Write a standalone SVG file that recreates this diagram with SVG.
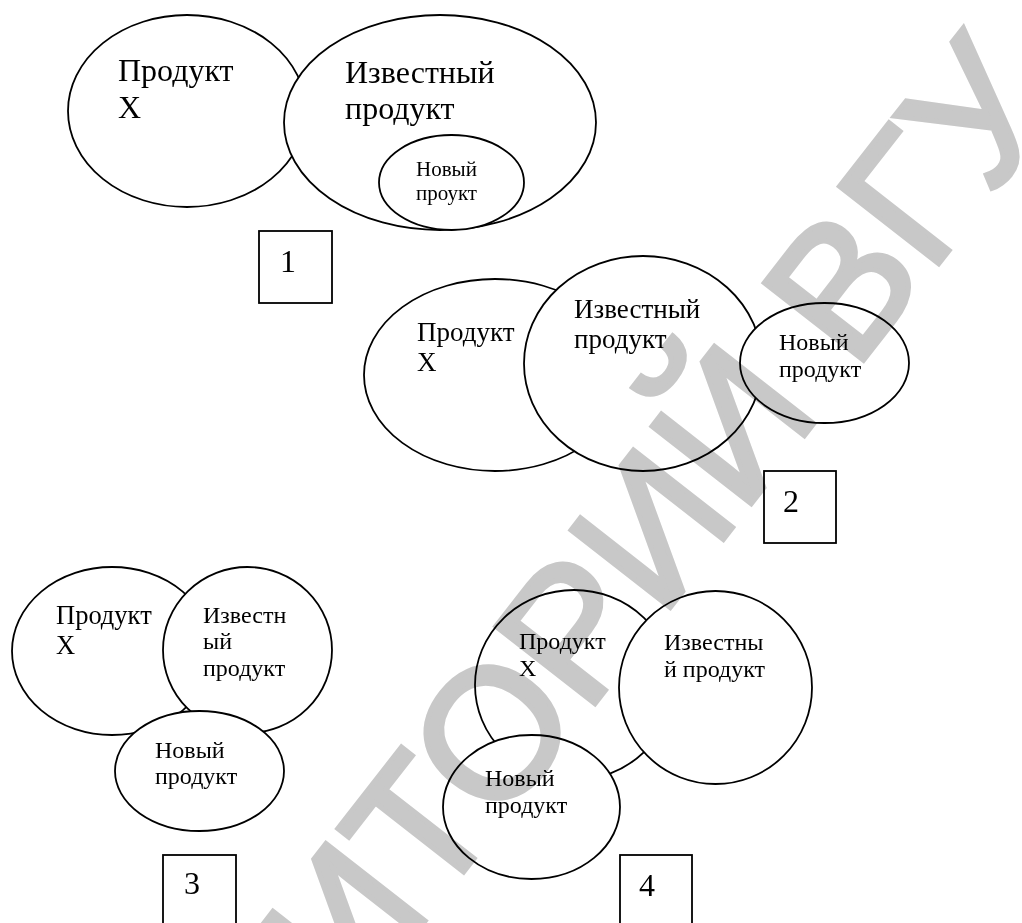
<svg xmlns="http://www.w3.org/2000/svg" width="1022" height="923" viewBox="0 0 1022 923">
<style>
.sh{fill:#fff;stroke:#000;stroke-width:1.8}
.bx{fill:none;stroke:#000;stroke-width:1.8}
.t{font-family:"Liberation Serif","Times New Roman",serif;fill:#000}
.wm{font-family:"Liberation Sans",Arial,sans-serif;fill:#c8c8c8;stroke:#c8c8c8;stroke-width:5;stroke-linejoin:miter;font-size:183px;mix-blend-mode:multiply}
</style>
<rect width="1022" height="923" fill="#fff"/>
<g id="connectors"></g>
<g id="diagram1">
  <g id="d1-x"><ellipse class="sh" cx="187" cy="111" rx="119" ry="96"/>
    <text class="t" font-size="32" x="118" y="81">Продукт</text><text class="t" font-size="32" x="118" y="118">X</text></g>
  <g id="d1-known"><ellipse class="sh" cx="440" cy="122.5" rx="156" ry="107.5"/>
    <text class="t" font-size="32" x="345" y="83">Известный</text><text class="t" font-size="32" x="345" y="119">продукт</text></g>
  <g id="d1-new"><ellipse class="sh" cx="451.5" cy="182.5" rx="72.5" ry="47.5"/>
    <text class="t" font-size="21" x="416" y="176">Новый</text><text class="t" font-size="21" x="416" y="200">проукт</text></g>
  <g id="d1-label"><rect class="bx" x="259" y="231" width="73" height="72"/><text class="t" font-size="32" x="280" y="272">1</text></g>
</g>
<g id="diagram2">
  <g id="d2-x"><ellipse class="sh" cx="495" cy="375" rx="131" ry="96"/>
    <text class="t" font-size="27" x="417" y="341">Продукт</text><text class="t" font-size="27" x="417" y="371">X</text></g>
  <g id="d2-known"><ellipse class="sh" cx="643" cy="363.5" rx="119" ry="107.5"/>
    <text class="t" font-size="27" x="574" y="318">Известный</text><text class="t" font-size="27" x="574" y="348">продукт</text></g>
  <g id="d2-new"><ellipse class="sh" cx="824.5" cy="363" rx="84.5" ry="60"/>
    <text class="t" font-size="24" x="779" y="350">Новый</text><text class="t" font-size="24" x="779" y="377">продукт</text></g>
  <g id="d2-label"><rect class="bx" x="764" y="471" width="72" height="72"/><text class="t" font-size="32" x="783" y="512">2</text></g>
</g>
<g id="diagram3">
  <g id="d3-x"><ellipse class="sh" cx="112" cy="651" rx="100" ry="84"/>
    <text class="t" font-size="26.5" x="56" y="624">Продукт</text><text class="t" font-size="26.5" x="56" y="654">X</text></g>
  <g id="d3-known"><ellipse class="sh" cx="247.5" cy="650" rx="84.5" ry="83"/>
    <text class="t" font-size="24" x="203" y="623">Известн</text><text class="t" font-size="24" x="203" y="649">ый</text><text class="t" font-size="24" x="203" y="676">продукт</text></g>
  <g id="d3-new"><ellipse class="sh" cx="199.5" cy="771" rx="84.5" ry="60"/>
    <text class="t" font-size="24" x="155" y="758">Новый</text><text class="t" font-size="24" x="155" y="784">продукт</text></g>
  <g id="d3-label"><rect class="bx" x="163" y="855" width="73" height="80"/><text class="t" font-size="32" x="184" y="894">3</text></g>
</g>
<g id="diagram4">
  <g id="d4-x"><ellipse class="sh" cx="574" cy="685" rx="99" ry="95"/>
    <text class="t" font-size="24" x="519" y="649">Продукт</text><text class="t" font-size="24" x="519" y="676">X</text></g>
  <g id="d4-known"><ellipse class="sh" cx="715.5" cy="687.5" rx="96.5" ry="96.5"/>
    <text class="t" font-size="24" x="664" y="650">Известны</text><text class="t" font-size="24" x="664" y="677">й продукт</text></g>
  <g id="d4-new"><ellipse class="sh" cx="531.5" cy="807" rx="88.5" ry="72"/>
    <text class="t" font-size="24" x="485" y="786">Новый</text><text class="t" font-size="24" x="485" y="813">продукт</text></g>
  <g id="d4-label"><rect class="bx" x="620" y="855" width="72" height="80"/><text class="t" font-size="32" x="639" y="896">4</text></g>
</g>
<g id="watermark">
  <text class="wm" text-anchor="end" transform="translate(1062 106) rotate(-52)">РЕПОЗИТОРИЙ ВГУ</text>
</g>
</svg>
